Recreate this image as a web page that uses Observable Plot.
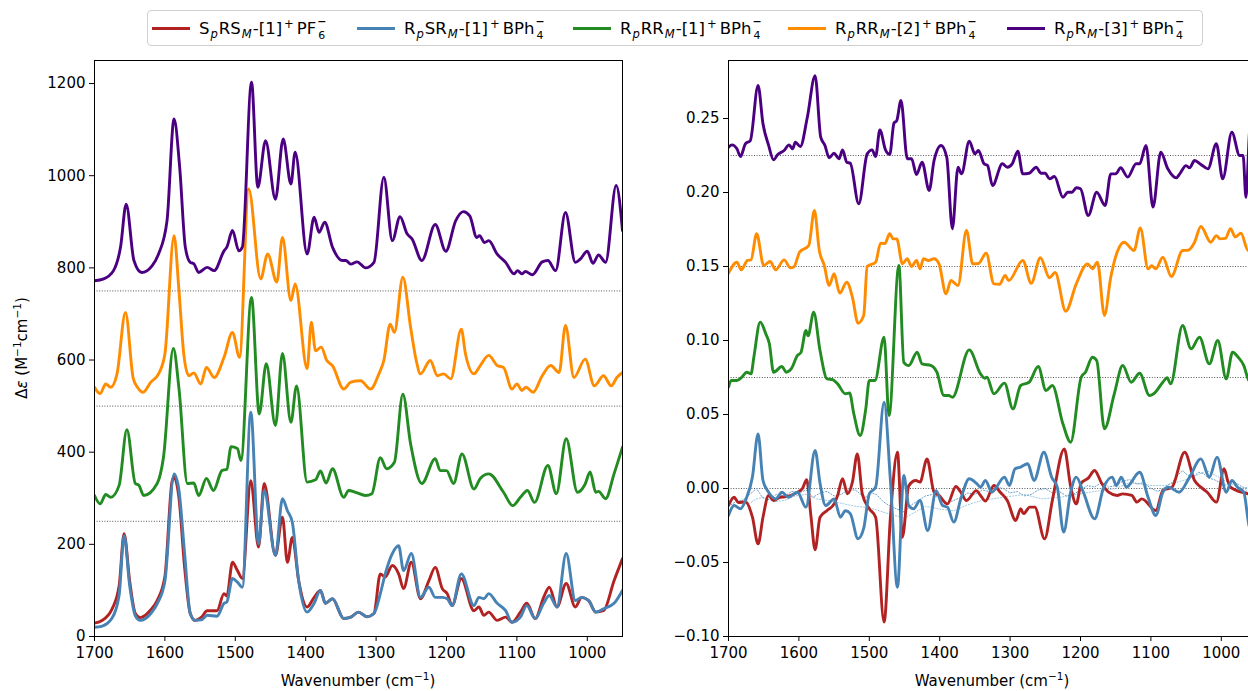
<!DOCTYPE html>
<html><head><meta charset="utf-8">
<script src="https://cdn.jsdelivr.net/npm/d3@7"></script>
<script src="https://cdn.jsdelivr.net/npm/@observablehq/plot@0.6"></script>
<style>
html,body{margin:0;padding:0;background:#fff;overflow:hidden;}
#root{position:relative;width:1248px;height:691px;overflow:hidden;font-family:"DejaVu Sans",sans-serif;color:#000;}
sup,sub{font-size:0.7em;line-height:0;}
sup{vertical-align:0.55em;}
sub{vertical-align:-0.3em;}
#legend sub{margin:0 1px;}
#legend sup{margin:0 3px 0 2px;}
.st{display:inline-block;vertical-align:-0.38em;font-size:0.66em;line-height:1.2em;text-align:center;margin-left:1px;}
.st span{display:block;height:1.2em;}
.st .m{font-weight:bold;}
#legend{position:absolute;left:147px;top:10px;width:1056px;height:36px;border:1px solid #d0d0d0;border-radius:4px;box-sizing:border-box;background:#fff;}
.li{position:absolute;top:0;height:35px;display:flex;align-items:center;font-size:16.5px;white-space:nowrap;}
.li .sw{width:38px;height:3px;margin-right:9px;}
.lbl{position:absolute;font-size:15px;white-space:nowrap;transform:translate(-50%,-50%);}
.ylbl{transform:translate(-50%,-50%) rotate(-90deg);}
</style></head><body><div id="root">
<div id="legend"></div>
<div class="lbl" style="left:358px;top:681px">Wavenumber (cm<sup>−1</sup>)</div>
<div class="lbl" style="left:992px;top:681px">Wavenumber (cm<sup>−1</sup>)</div>
<div class="lbl ylbl" style="left:22px;top:348px">Δ<i>ε</i> (M<sup>−1</sup>cm<sup>−1</sup>)</div>
</div>
<script>
// ---------- Data (wavenumber, value) ----------
// IR spectra (left panel), raw values
const irRed = [[1700,29],[1690,34],[1675,60],[1665,110],[1658,223],[1650,120],[1642,50],[1635,41],[1620,58],[1611,78],[1600,130],[1590,335],[1587,346],[1580,300],[1572,150],[1564,50],[1557,35],[1548,42],[1540,56],[1526,56],[1516,93],[1512,88],[1504,161],[1497,143],[1490,126],[1478,338],[1467,194],[1459,332],[1443,176],[1433,259],[1426,161],[1419,215],[1410,121],[1398,64],[1388,85],[1379,100],[1372,72],[1362,82],[1346,39],[1336,42],[1325,53],[1313,43],[1303,50],[1294,136],[1287,129],[1277,154],[1268,136],[1261,104],[1250,161],[1237,82],[1225,121],[1216,150],[1206,104],[1199,93],[1192,67],[1179,126],[1161,56],[1154,64],[1147,46],[1140,53],[1128,35],[1116,42],[1107,31],[1095,53],[1086,72],[1074,39],[1062,85],[1054,107],[1043,64],[1030,115],[1017,64],[1008,85],[998,78],[988,53],[977,56],[962,121],[950,169]];
const irBlue = [[1700,20],[1690,22],[1675,40],[1665,90],[1658,219],[1650,110],[1642,45],[1635,35],[1620,50],[1611,71],[1600,120],[1587,353],[1580,317],[1572,180],[1564,50],[1557,35],[1548,36],[1540,46],[1526,44],[1516,72],[1512,75],[1504,126],[1497,118],[1490,107],[1478,487],[1467,201],[1459,317],[1443,176],[1433,299],[1426,273],[1419,248],[1410,121],[1398,53],[1388,72],[1379,100],[1372,72],[1362,82],[1346,39],[1336,42],[1325,53],[1313,43],[1303,50],[1294,93],[1287,136],[1277,180],[1268,197],[1261,143],[1250,180],[1237,85],[1225,107],[1216,85],[1206,85],[1199,82],[1192,67],[1179,136],[1161,67],[1154,85],[1147,82],[1140,93],[1128,72],[1116,56],[1107,31],[1095,42],[1086,67],[1074,39],[1062,72],[1054,89],[1043,64],[1030,180],[1017,78],[1008,85],[998,78],[988,53],[977,60],[962,72],[950,100]];
const irGreen = [[1700,56],[1692,38],[1684,58],[1677,52],[1665,78],[1654,199],[1642,82],[1637,78],[1630,56],[1611,82],[1602,139],[1588,375],[1580,288],[1568,82],[1559,83],[1552,56],[1541,93],[1531,67],[1519,110],[1512,113],[1506,162],[1497,158],[1492,132],[1477,486],[1466,233],[1456,342],[1443,208],[1433,364],[1421,215],[1413,294],[1398,85],[1386,90],[1379,109],[1371,83],[1362,114],[1346,52],[1339,67],[1329,63],[1315,56],[1306,60],[1294,138],[1285,114],[1274,128],[1262,276],[1251,168],[1235,82],[1216,136],[1209,110],[1200,110],[1190,82],[1178,146],[1161,70],[1152,93],[1140,103],[1119,63],[1106,34],[1095,52],[1085,67],[1075,41],[1056,121],[1044,60],[1030,179],[1014,63],[1003,81],[996,107],[988,63],[984,65],[974,49],[962,103],[950,161]];
const irOrange = [[1700,41],[1692,27],[1684,48],[1677,41],[1668,70],[1656,203],[1645,60],[1639,41],[1631,30],[1620,52],[1609,70],[1600,113],[1587,370],[1580,250],[1573,110],[1566,66],[1559,72],[1549,48],[1541,84],[1530,62],[1516,106],[1504,160],[1494,106],[1481,471],[1464,276],[1454,330],[1441,269],[1433,366],[1421,229],[1415,265],[1398,81],[1392,182],[1386,120],[1378,128],[1370,99],[1362,88],[1346,37],[1336,52],[1322,55],[1308,37],[1296,70],[1289,99],[1280,178],[1274,160],[1262,280],[1251,171],[1243,99],[1237,70],[1223,99],[1213,66],[1204,70],[1194,59],[1179,167],[1173,113],[1161,70],[1152,88],[1140,110],[1128,88],[1119,84],[1107,37],[1100,48],[1093,34],[1087,41],[1077,30],[1064,66],[1052,88],[1040,73],[1031,175],[1019,62],[1003,102],[990,44],[977,66],[966,44],[958,62],[950,73]];
const irPurple = [[1700,22],[1687,26],[1673,44],[1663,95],[1655,188],[1644,66],[1633,40],[1618,55],[1609,80],[1597,152],[1587,373],[1579,268],[1571,95],[1564,62],[1559,59],[1552,40],[1540,51],[1530,44],[1516,87],[1512,95],[1504,131],[1495,87],[1490,95],[1477,453],[1468,225],[1457,326],[1443,199],[1432,330],[1421,232],[1415,301],[1398,80],[1388,160],[1381,127],[1373,149],[1362,95],[1348,66],[1343,66],[1336,58],[1327,63],[1315,50],[1303,62],[1289,247],[1277,109],[1266,161],[1256,124],[1249,113],[1235,66],[1216,144],[1201,86],[1187,152],[1176,172],[1167,163],[1157,116],[1153,120],[1146,105],[1140,109],[1128,80],[1116,62],[1104,37],[1099,44],[1093,37],[1088,42],[1078,35],[1064,63],[1056,66],[1045,44],[1031,170],[1017,62],[1010,69],[1000,86],[992,60],[984,78],[974,62],[959,229],[950,131]];

// VCD spectra (right panel), raw values
const vcdRed = [[1700,-0.0115],[1692,-0.0059],[1686,-0.0095],[1676,-0.009],[1666,-0.0194],[1658,-0.0374],[1651,-0.0194],[1643,-0.0047],[1636,-0.0081],[1627,-0.0059],[1618,-0.0055],[1602,-0.0025],[1595,0.0],[1589,0.0059],[1583,-0.0182],[1577,-0.0414],[1570,-0.0194],[1560,-0.0149],[1550,-0.0104],[1545,-0.0047],[1538,0.0066],[1531,-0.0036],[1524,0.0043],[1517,0.0234],[1510,-0.0036],[1500,-0.0137],[1491,-0.0194],[1479,-0.0903],[1470,-0.0194],[1460,0.0245],[1453,-0.0329],[1444,0.0018],[1434,0.0054],[1428,0.0043],[1418,0.02],[1408,-0.0025],[1401,-0.0047],[1389,-0.0104],[1377,0.0014],[1370,-0.0025],[1362,-0.0081],[1348,-0.0014],[1342,-0.0047],[1335,-0.0085],[1323,0.002],[1314,-0.0025],[1304,-0.0081],[1292,-0.0216],[1285,-0.0137],[1281,-0.017],[1272,-0.0126],[1265,-0.0126],[1251,-0.034],[1240,-0.0081],[1223,0.0268],[1214,0.0014],[1206,-0.0104],[1199,0.0036],[1189,0.007],[1180,0.0122],[1170,0.0036],[1160,-0.0025],[1148,-0.0047],[1140,-0.0036],[1127,-0.0047],[1120,-0.0092],[1113,-0.007],[1093,-0.0149],[1083,-0.0014],[1070,0.0009],[1052,0.0245],[1038,0.0054],[1029,0.0009],[1020,-0.0025],[1007,-0.0092],[996,0.0133],[991,0.0054],[987,0.001],[978,-0.0014],[962,-0.0036],[950,-0.006]];
const vcdBlue = [[1700,-0.0182],[1692,-0.0115],[1683,-0.0137],[1675,-0.007],[1666,0.0077],[1658,0.0369],[1651,0.0054],[1643,-0.0025],[1633,-0.007],[1624,-0.0025],[1615,-0.0059],[1602,-0.0025],[1590,-0.0126],[1577,0.0257],[1570,0.0036],[1562,-0.0115],[1550,-0.007],[1541,-0.0194],[1534,-0.015],[1527,-0.017],[1516,-0.034],[1508,-0.027],[1500,-0.0036],[1491,0.0009],[1479,0.0583],[1470,0.0054],[1460,-0.0667],[1451,0.0088],[1444,-0.0115],[1437,-0.0137],[1428,-0.0081],[1417,-0.0284],[1405,-0.0014],[1396,-0.0115],[1389,-0.0126],[1380,-0.0227],[1370,-0.007],[1358,0.0066],[1348,0.0036],[1342,0.0009],[1335,0.0054],[1326,-0.0025],[1308,0.0077],[1301,0.002],[1293,0.0133],[1285,0.0145],[1275,0.0167],[1266,0.0054],[1252,0.0245],[1241,0.0077],[1233,0.0009],[1224,-0.0295],[1214,-0.0025],[1206,0.0077],[1196,-0.0025],[1180,-0.0205],[1167,0.0009],[1155,0.0077],[1149,0.002],[1142,0.0077],[1135,0.0009],[1116,0.011],[1104,-0.0059],[1093,-0.0182],[1083,-0.0025],[1075,0.0009],[1060,-0.0025],[1045,0.0077],[1029,0.02],[1017,0.0077],[1006,0.0212],[993,-0.0025],[985,0.0054],[977,0.0009],[968,-0.0025],[960,-0.0261],[950,-0.03]];
const vcdGreen = [[1700,-0.0065],[1696,-0.002],[1688,-0.002],[1681,0.0002],[1674,0.0036],[1668,0.0025],[1664,0.0137],[1655,0.0374],[1647,0.0295],[1642,0.023],[1636,0.0036],[1624,0.0074],[1618,0.0036],[1611,0.0058],[1602,0.0149],[1597,0.017],[1590,0.0318],[1587,0.0281],[1579,0.0441],[1570,0.0182],[1560,-0.0009],[1552,-0.0015],[1545,-0.0043],[1534,-0.011],[1528,-0.0105],[1522,-0.0245],[1513,-0.0392],[1505,-0.0212],[1500,-0.002],[1492,-0.002],[1479,0.0272],[1472,-0.0257],[1458,0.0757],[1451,0.0103],[1444,0.0081],[1432,0.0171],[1425,0.0092],[1412,0.0081],[1404,0.0036],[1394,-0.0122],[1387,-0.0122],[1382,-0.0133],[1358,0.0187],[1342,0.0025],[1336,-0.0005],[1333,0.0002],[1323,-0.011],[1308,-0.0038],[1296,-0.0212],[1285,-0.0054],[1273,-0.0032],[1260,0.0074],[1249,-0.0088],[1240,-0.0054],[1225,-0.0313],[1214,-0.0437],[1199,0.0002],[1193,0.0036],[1183,0.0137],[1177,0.0115],[1166,-0.0347],[1152,-0.011],[1140,0.0081],[1128,-0.0032],[1116,0.0029],[1102,-0.0122],[1096,-0.011],[1083,-0.0032],[1077,-0.0002],[1072,-0.0043],[1055,0.0351],[1043,0.0194],[1031,0.0272],[1017,0.0092],[1005,0.025],[993,-0.0009],[984,0.0171],[976,0.0137],[968,0.008],[962,-0.0009],[955,-0.005],[950,-0.006]];
const vcdOrange = [[1700,-0.0045],[1688,0.0029],[1682,-0.0023],[1673,0.0041],[1668,0.0045],[1660,0.0221],[1650,0.0007],[1641,0.0034],[1633,-0.0023],[1621,0.0045],[1612,-0.0009],[1607,-0.0002],[1599,0.0097],[1586,0.0142],[1578,0.0378],[1571,0.0108],[1564,0.0007],[1557,-0.0128],[1550,-0.0049],[1542,-0.018],[1532,-0.0106],[1524,-0.0207],[1516,-0.0383],[1508,-0.0331],[1503,0.0],[1491,0.0029],[1484,0.0158],[1478,0.0155],[1471,0.0221],[1466,0.0187],[1461,0.0187],[1453,0.0018],[1446,0.0052],[1440,0.0],[1433,0.0041],[1428,-0.0016],[1423,0.0052],[1416,0.0041],[1408,0.0052],[1401,0.0018],[1391,-0.0185],[1384,-0.0095],[1374,-0.0128],[1362,0.0243],[1353,0.0018],[1345,0.002],[1334,0.009],[1323,-0.0117],[1315,-0.012],[1307,-0.0061],[1302,-0.0095],[1282,0.0041],[1270,-0.0113],[1257,0.0059],[1244,-0.0076],[1236,-0.004],[1221,-0.0302],[1206,-0.0117],[1190,0.0018],[1183,-0.0015],[1176,0.0029],[1166,-0.0331],[1157,-0.0072],[1147,0.0108],[1138,0.0164],[1124,0.0108],[1115,0.0261],[1104,-0.0016],[1099,0.0005],[1093,-0.0016],[1083,0.0063],[1071,-0.0068],[1055,0.0108],[1047,0.011],[1038,0.0164],[1029,0.027],[1015,0.0164],[1007,0.0209],[1002,0.0187],[994,0.019],[987,0.0255],[980,0.02],[972,0.0225],[962,0.0108],[955,0.012],[950,0.015]];
const vcdPurple = [[1700,0.0056],[1695,0.0072],[1688,0.0045],[1683,-0.0007],[1676,0.0079],[1669,0.0101],[1658,0.0473],[1651,0.0214],[1643,0.0068],[1636,-0.0029],[1630,0.0007],[1621,0.0034],[1614,0.0072],[1609,0.0045],[1605,0.009],[1598,0.0061],[1588,0.0259],[1577,0.054],[1569,0.0124],[1563,0.0068],[1557,-0.0016],[1550,0.0016],[1543,-0.0022],[1538,0.0038],[1532,-0.0045],[1527,-0.0052],[1515,-0.0327],[1503,0.0011],[1496,0.0038],[1491,-0.0007],[1485,0.0173],[1477,0.0038],[1471,0.0007],[1465,0.0218],[1461,0.0236],[1455,0.0372],[1446,-0.0022],[1440,-0.0022],[1433,-0.0128],[1425,-0.0045],[1415,-0.0236],[1408,-0.0034],[1398,0.0068],[1390,-0.0011],[1382,-0.0495],[1374,-0.0079],[1369,-0.0124],[1358,0.0097],[1350,0.0011],[1345,0.0034],[1337,-0.0056],[1332,-0.0068],[1325,-0.0203],[1311,-0.0056],[1304,-0.0079],[1297,-0.0056],[1289,0.0029],[1282,-0.0124],[1273,-0.012],[1263,-0.0079],[1256,-0.012],[1250,-0.012],[1244,-0.0158],[1237,-0.0142],[1225,-0.0282],[1218,-0.0248],[1212,-0.0248],[1206,-0.0218],[1200,-0.0225],[1189,-0.0405],[1177,-0.0248],[1165,-0.0338],[1157,-0.0124],[1150,-0.0124],[1143,-0.0083],[1133,-0.0146],[1121,-0.0056],[1116,-0.0056],[1107,0.0068],[1097,-0.0349],[1086,0.0022],[1076,-0.009],[1064,-0.0151],[1059,-0.0124],[1050,-0.0068],[1045,-0.0083],[1038,-0.0034],[1029,-0.006],[1019,-0.009],[1007,0.0079],[998,-0.0158],[985,0.0157],[974,0.0],[969,0.0],[965,-0.0282],[960,0.0157],[955,0.04],[950,0.02]];
// VCD noise traces (dotted)
const vcdNoiseA = [[1700,-0.012],[1690,-0.009],[1680,-0.008],[1670,-0.004],[1660,0.0],[1652,-0.006],[1645,-0.008],[1632,-0.004],[1620,-0.005],[1610,-0.002],[1600,-0.003],[1590,-0.001],[1580,-0.006],[1570,-0.003],[1560,-0.002],[1550,-0.005],[1540,-0.004],[1530,-0.001],[1520,-0.001],[1512,-0.004],[1505,-0.006],[1497,-0.003],[1490,-0.004],[1480,-0.009],[1470,-0.012],[1460,-0.014],[1450,-0.016],[1440,-0.011],[1430,-0.008],[1420,-0.005],[1410,-0.004],[1400,-0.007],[1390,-0.01],[1380,-0.008],[1370,-0.006],[1360,-0.003],[1350,-0.004],[1340,-0.001],[1330,-0.002],[1320,0.001],[1310,0.0],[1300,-0.003],[1290,-0.002],[1280,-0.005],[1270,-0.004],[1260,-0.001],[1250,0.0],[1240,-0.003],[1230,-0.002],[1220,-0.005],[1210,-0.004],[1200,-0.001],[1190,0.002],[1180,0.001],[1170,0.004],[1160,0.001],[1150,0.002],[1140,0.005],[1130,0.006],[1120,0.003],[1110,0.004],[1100,0.0],[1090,-0.002],[1080,0.001],[1070,0.004],[1062,0.009],[1055,0.012],[1048,0.009],[1040,0.008],[1032,0.011],[1025,0.01],[1018,0.007],[1010,0.006],[1002,0.004],[995,0.002],[987,0.005],[980,0.004],[970,0.001],[960,0.0],[950,0.0]];
const vcdNoiseB = [[1700,-0.006],[1685,-0.008],[1670,-0.01],[1660,-0.007],[1650,-0.006],[1635,-0.009],[1620,-0.008],[1605,-0.005],[1590,-0.004],[1575,-0.007],[1560,-0.008],[1540,-0.01],[1520,-0.012],[1500,-0.013],[1480,-0.016],[1465,-0.018],[1450,-0.02],[1435,-0.016],[1420,-0.012],[1400,-0.014],[1380,-0.015],[1360,-0.011],[1340,-0.008],[1310,-0.006],[1280,-0.004],[1255,-0.007],[1230,-0.006],[1205,-0.004],[1180,-0.002],[1150,0.0],[1130,0.004],[1100,0.002],[1080,0.002],[1050,0.006],[1035,0.009],[1020,0.012],[1005,0.008],[990,0.004],[975,0.001],[960,-0.002],[950,-0.002]];

// ---------- Series definitions ----------
const colors = {red:"#b22222", blue:"#4682b4", green:"#228b22", orange:"#ff8c00", purple:"#4b0082"};
const irOffsets = [0, 0, 250, 500, 750];
const vcdOffsets = [0, 0, 0.075, 0.15, 0.225];
const seriesKeys = ["red","blue","green","orange","purple"];
const irData = [irRed, irBlue, irGreen, irOrange, irPurple];
const vcdData = [vcdRed, vcdBlue, vcdGreen, vcdOrange, vcdPurple];
const legendLabels = [
  'S<sub><i>p</i></sub>RS<sub><i>M</i></sub>-[1]<sup>+</sup>PF<span class="st"><span class="m">−</span><span>6</span></span>',
  'R<sub><i>p</i></sub>SR<sub><i>M</i></sub>-[1]<sup>+</sup>BPh<span class="st"><span class="m">−</span><span>4</span></span>',
  'R<sub><i>p</i></sub>RR<sub><i>M</i></sub>-[1]<sup>+</sup>BPh<span class="st"><span class="m">−</span><span>4</span></span>',
  'R<sub><i>p</i></sub>RR<sub><i>M</i></sub>-[2]<sup>+</sup>BPh<span class="st"><span class="m">−</span><span>4</span></span>',
  'R<sub><i>p</i></sub>R<sub><i>M</i></sub>-[3]<sup>+</sup>BPh<span class="st"><span class="m">−</span><span>4</span></span>'
];
const legendX = [152, 357, 573, 788, 1007];

const xTicks = [1700,1600,1500,1400,1300,1200,1100,1000];
const irYTicks = [0,200,400,600,800,1000,1200];
const vcdYTicks = [-0.10,-0.05,0.00,0.05,0.10,0.15,0.20,0.25];

const rows = (arr, off, key) => arr.map(([x,y]) => ({x, y: y + off, key}));

const LW = 2.9;
const baseStyle = {fontSize:"15px", fontFamily:"'DejaVu Sans', sans-serif", color:"#000", background:"transparent", overflow:"visible"};

// ---------- Left: IR ----------
const irMarks = [
  Plot.ruleY([250,500,750], {stroke:"#444", strokeWidth:0.9, strokeDasharray:"1,1.6"})
];
seriesKeys.forEach((k,i) => {
  irMarks.push(Plot.line(rows(irData[i], irOffsets[i], k), {x:"x", y:"y", stroke:colors[k], strokeWidth:LW, curve:"monotone-x", clip:true}));
});
irMarks.push(
  Plot.axisX({ticks:xTicks, tickFormat:d3.format("d"), tickSize:5, tickPadding:6, label:null}),
  Plot.axisY({ticks:irYTicks, tickFormat:d3.format("d"), tickSize:5, tickPadding:4, label:null}),
  Plot.frame({stroke:"#000", strokeWidth:1})
);
const left = Plot.plot({
  width:640, height:691,
  marginLeft:94, marginRight:18, marginTop:60, marginBottom:55,
  x:{domain:[1700,950]}, y:{domain:[0,1250]},
  style:baseStyle,
  marks:irMarks
});
left.style.position = "absolute"; left.style.left = "0px"; left.style.top = "0px";

// ---------- Right: VCD ----------
const vcdMarks = [
  Plot.ruleY([0,0.075,0.15,0.225], {stroke:"#444", strokeWidth:0.9, strokeDasharray:"1,1.6"}),
  Plot.line(rows(vcdNoiseB,0,"nb"), {x:"x", y:"y", stroke:"#9ecae1", strokeWidth:1, strokeDasharray:"1.2,1.8", curve:"linear", clip:true}),
  Plot.line(rows(vcdNoiseA,0,"na"), {x:"x", y:"y", stroke:"#6a9fcb", strokeWidth:1, strokeDasharray:"1.2,1.8", curve:"linear", clip:true})
];
seriesKeys.forEach((k,i) => {
  vcdMarks.push(Plot.line(rows(vcdData[i], vcdOffsets[i], k), {x:"x", y:"y", stroke:colors[k], strokeWidth:LW, curve:"monotone-x", clip:true}));
});
vcdMarks.push(
  Plot.axisX({ticks:xTicks, tickFormat:d3.format("d"), tickSize:5, tickPadding:6, label:null}),
  Plot.axisY({ticks:vcdYTicks, tickFormat:d3.format(".2f"), tickSize:5, tickPadding:4, label:null}),
  Plot.frame({stroke:"#000", strokeWidth:1})
);
const right = Plot.plot({
  width:620, height:691,
  marginLeft:88, marginRight:4, marginTop:60, marginBottom:55,
  x:{domain:[1700,950]}, y:{domain:[-0.1,0.2892]},
  style:baseStyle,
  marks:vcdMarks
});
right.style.position = "absolute"; right.style.left = "640px"; right.style.top = "0px";

const root = document.getElementById("root");
root.insertBefore(right, root.firstChild);
root.insertBefore(left, root.firstChild);

// ---------- Legend ----------
const leg = document.getElementById("legend");
seriesKeys.forEach((k,i) => {
  const d = document.createElement("div");
  d.className = "li";
  d.style.left = (legendX[i] - 148) + "px";
  d.innerHTML = `<div class="sw" style="background:${colors[k]}"></div><span>${legendLabels[i]}</span>`;
  leg.appendChild(d);
});
</script></body></html>
